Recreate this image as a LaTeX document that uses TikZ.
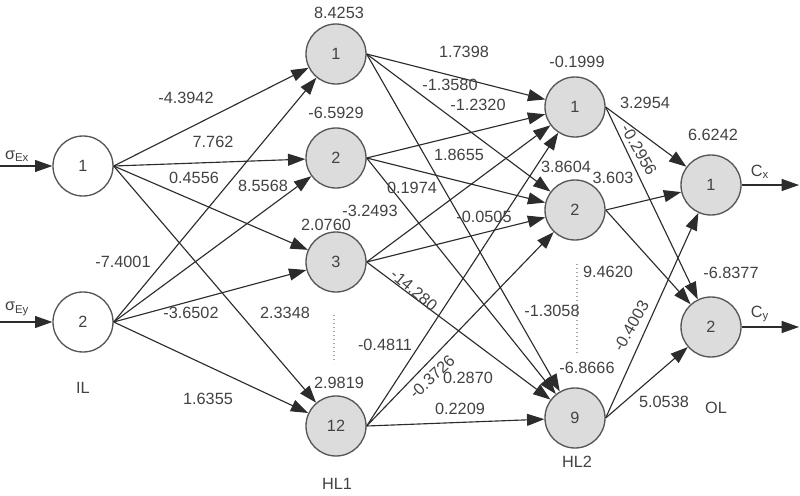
\documentclass[tikz,border=0pt]{standalone}
\usepackage{fontspec}
\setmainfont{Liberation Sans}
\usetikzlibrary{arrows.meta}
\definecolor{txt}{HTML}{424242}
\definecolor{ln}{HTML}{2C2C2C}
\definecolor{nfill}{HTML}{DCDCDC}
\begin{document}
\begin{tikzpicture}[x=0.75pt,y=-0.75pt,
  every node/.style={font=\fontsize{12.2}{14}\selectfont, text=txt},
  neuron/.style={circle,draw=ln!80,line width=1pt,fill=nfill,minimum size=45pt,inner sep=0pt},
  inneuron/.style={neuron,fill=white},
  arr/.style={draw=ln,line width=0.85pt,-{Triangle[length=13pt,width=9pt]}},
  wlab/.style={inner sep=1pt},
  dots/.style={draw=gray!70,dotted,line width=1pt}]
\useasboundingbox (0,0) rectangle (800,496);
% neurons
\node[inneuron] (i1) at (83,166) {1};
\node[inneuron] (i2) at (83,322) {2};
\node[neuron] (h1) at (336,54) {1};
\node[neuron] (h2) at (336,158) {2};
\node[neuron] (h3) at (336,262) {3};
\node[neuron] (h12) at (336,426) {12};
\node[neuron] (g1) at (575,107) {1};
\node[neuron] (g2) at (575,210) {2};
\node[neuron] (g9) at (575,418) {9};
\node[neuron] (o1) at (711,185) {1};
\node[neuron] (o2) at (711,327) {2};
% inputs / outputs
\coordinate (sx) at (0,166);
\coordinate (sy) at (0,322);
\coordinate (cx) at (799,185);
\coordinate (cy) at (799,327);
\draw[arr] (sx) -- (i1);
\draw[arr] (sy) -- (i2);
\draw[arr] (o1) -- (cx);
\draw[arr] (o2) -- (cy);
\node (lsx) at (17,156) {σ\textsubscript{Ex}};
\node (lsy) at (17,309) {σ\textsubscript{Ey}};
\node (lcx) at (760,172) {C\textsubscript{x}};
\node (lcy) at (760,314) {C\textsubscript{y}};
% IL -> HL1
\foreach \s in {i1,i2}{\foreach \t in {h1,h2,h3,h12}{\draw[arr] (\s.east) -- (\t);}}
% HL1 -> HL2
\foreach \s in {h1,h2,h3,h12}{\foreach \t in {g1,g2,g9}{\draw[arr] (\s.east) -- (\t);}}
% HL2 -> OL
\foreach \s in {g1,g2,g9}{\foreach \t in {o1,o2}{\draw[arr] (\s.east) -- (\t);}}
% dotted ellipsis
\coordinate (da) at (334,315); \coordinate (db) at (334,363);
\coordinate (dc) at (577,264); \coordinate (dd) at (577,354);
\draw[dots] (da) -- (db);
\draw[dots] (dc) -- (dd);
% weights IL->HL1
\node[wlab] (w1) at (186,98) {-4.3942};
\node[wlab] (w2) at (213,142) {7.762};
\node[wlab] (w3) at (194,178) {0.4556};
\node[wlab] (w4) at (263,186) {8.5568};
\node[wlab] (w5) at (123,262) {-7.4001};
\node[wlab] (w6) at (191,313) {-3.6502};
\node[wlab] (w7) at (285,313) {2.3348};
\node[wlab] (w8) at (208,399) {1.6355};
% biases HL1
\node[wlab] (b1) at (339,13) {8.4253};
\node[wlab] (b2) at (336,113) {-6.5929};
\node[wlab] (b3) at (326,225) {2.0760};
\node[wlab] (b12) at (339,383) {2.9819};
% weights HL1->HL2
\node[wlab] (v1) at (464,52) {1.7398};
\node[wlab] (v2) at (450,85) {-1.3580};
\node[wlab] (v3) at (478,105) {-1.2320};
\node[wlab] (v4) at (459,155) {1.8655};
\node[wlab] (v5) at (412,188) {0.1974};
\node[wlab] (v6) at (370,211) {-3.2493};
\node[wlab] (v7) at (484,217) {-0.0505};
\node[wlab,rotate=-40] (v8) at (414,290) {-14.280};
\node[wlab] (v9) at (552,311) {-1.3058};
\node[wlab] (v10) at (385,345) {-0.4811};
\node[wlab,rotate=43] (v11) at (432,377) {-0.3726};
\node[wlab] (v12) at (468,378) {0.2870};
\node[wlab] (v13) at (460,409) {0.2209};
% biases HL2
\node[wlab] (c1) at (577,62) {-0.1999};
\node[wlab] (c2) at (566,167) {3.8604};
\node[wlab] (c9) at (587,368) {-6.8666};
% weights HL2->OL
\node[wlab] (u1) at (645,103) {3.2954};
\node[wlab,rotate=-60] (u2) at (639,150) {-0.2956};
\node[wlab] (u3) at (613,178) {3.603};
\node[wlab] (u4) at (608,272) {9.4620};
\node[wlab,rotate=60] (u5) at (631,326) {-0.4003};
\node[wlab] (u6) at (664,402) {5.0538};
% biases OL
\node[wlab] (d1) at (713,135) {6.6242};
\node[wlab] (d2) at (731,273) {-6.8377};
% layer names
\node (lil) at (83,388) {IL};
\node (lh1) at (337,484) {HL1};
\node (lh2) at (577,462) {HL2};
\node (lol) at (716,408) {OL};
\end{tikzpicture}
\end{document}
